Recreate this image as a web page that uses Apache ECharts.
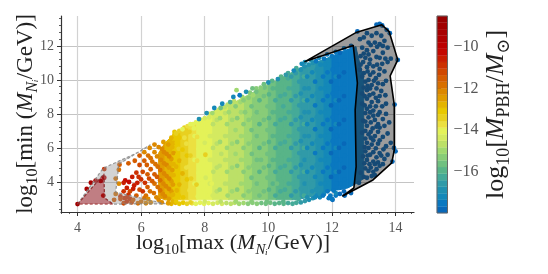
<!DOCTYPE html>
<html><head><meta charset="utf-8">
<style>html,body{margin:0;padding:0;background:#fff}#c{width:548px;height:274px}</style>
<script src="https://cdn.jsdelivr.net/npm/echarts@6/dist/echarts.min.js"></script>
</head><body><div id="c"></div>
<script>
// Tick labels
const xTicks=[4,6,8,10,12,14];
const yTicks=[4,6,8,10,12];
const cbarTicks=[-16,-14,-12,-10];
// Colour scale, bottom to top
const palette=['#0868b8','#0a78c0','#1488b8','#2090b0','#309aa8','#45aa98','#58b488','#70c080','#88cc78','#a0d870','#bce068','#d4ea60','#e4f258','#ece040','#e8d020','#e8c800','#e4b400','#e09c00','#dc8800','#d87000','#d45c00','#d04800','#cc3000','#c81c00','#c40800','#bc0000','#b00000','#a80000','#a00000','#980000'];
const cMin=-18,cMax=-8.5;
// Hull outlines [x,y]
const redHull=[[4,2.7],[4.83,4.47],[4.85,3.06],[5.12,2.7]];
const grayHull=[[4,2.7],[4.8,4.8],[5.97,5.8],[6.28,6.18],[5.3,5.05],[5.2,3.4],[6.75,2.72],[5.12,2.7],[4.85,3.06],[4.83,4.47]];
const blackHull=[[11.15,11.08],[12.78,12.81],[13.57,13.24],[13.8,12.84],[14.07,11.18],[13.83,10.24],[13.96,8.53],[13.96,5.88],[13.88,5.12],[13.29,4.12],[12.34,3.18],[12.69,3.65],[12.76,4.9],[12.73,8.24],[12.8,9.82],[12.67,12.02]];
// The packed interior of the cloud is too dense to read point by point, so it is
// painted as an envelope: x, lower and upper edge, colour value.
const bandX=[6.55,6.75,7,7.25,7.5,7.75,8,8.25,8.5,8.75,9,9.25,9.5,9.75,10,10.25,10.5,10.75,11,11.25,11.5,11.75,12,12.25,12.5,12.75,13];
const bandLow=[3.1,2.95,2.95,2.95,2.95,2.95,2.95,2.95,2.95,2.95,2.95,2.95,2.95,2.95,2.95,2.95,2.95,2.95,3,3.1,3.25,3.4,3.5,3.55,3.65,3.9,4.2];
const bandHigh=[5.7,6.3,6.75,7,7.25,7.5,7.75,8,8.25,8.5,8.75,9,9.25,9.5,9.75,9.95,10.2,10.45,10.7,10.9,11.05,11.2,11.4,11.6,11.8,11.95,10];
const bandC=[-12.5,-12.8,-13.15,-13.4,-13.75,-14,-14.2,-14.35,-14.45,-14.6,-14.75,-15,-15.3,-15.45,-15.6,-15.8,-16,-16.2,-16.45,-16.7,-16.95,-17.2,-17.4,-17.5,-17.6,-17.6,-17.7];
// Individually readable points [x,y,colour value]
const lowDots=[[4,2.7,-9],[4.29,3.59,-9.4],[4.42,3.96,-9.2],[4.57,4.08,-9.5],[4.73,4.06,-9.6],[4.84,4.25,-9.9],[4.84,4.76,-10.9],[4.81,3.2,-10.3],[5.32,5.02,-11.6],[5.3,4.72,-11.8],[5.2,4.2,-11.8],[5.3,3.9,-12.2],[5.2,3.3,-11.7],[5.55,3.1,-11],[5.65,3,-11],[5.7,2.8,-11.3],[5.45,2.75,-11.2],[5.35,3.15,-10.9],[5.5,4.1,-10.2],[5.62,4,-10.1],[5.72,4.3,-10.6],[5.55,3.65,-10.7],[5.78,3.8,-10.4],[5.65,3.45,-11.1],[5.85,4.55,-11],[5.6,5.1,-11.4],[5.8,5.25,-11.6],[5.95,5,-11.2],[5.95,5.55,-11.6],[6.1,5.75,-12],[6.1,5.25,-11.5],[6.05,4.6,-11.2],[6,4.15,-11],[5.95,3.55,-11.2],[5.85,3.2,-11.5],[6,2.85,-11.8],[6.15,3.2,-11.7],[6.2,3.7,-11.4],[6.25,4.2,-11.3],[6.3,4.75,-11.6],[6.3,5.4,-11.8],[6.27,6,-12.1],[6.42,5.75,-12],[6.45,5.05,-11.7],[6.42,4.45,-11.6],[6.42,3.9,-11.7],[6.4,3.35,-11.9],[6.3,2.8,-12.1],[6.55,2.95,-12.2],[6.6,3.5,-11.9],[6.6,4.1,-11.8],[6.6,4.7,-11.9],[6.62,5.3,-12],[6.65,5.95,-12.3],[6.7,6.35,-12.5],[6.8,5.65,-12.2],[6.8,5,-12.2],[6.8,4.35,-12.1],[6.78,3.75,-12.1],[6.75,3.15,-12.3],[6.85,2.75,-12.6],[6.95,3.45,-12.5],[6.95,4.05,-12.4],[6.98,4.7,-12.6],[6.95,5.35,-12.5],[6.98,6.05,-12.7],[6.95,6.6,-12.9],[5.15,2.95,-11.6],[6.1,3.05,-11.9],[5.75,2.95,-11.4],[5.9,2.75,-11.7],[6.15,2.75,-12.1],[5.45,3.95,-10.4],[5.45,3.45,-10.9],[6.05,3.45,-11],[6.12,3.95,-10.9],
[6.22,3,-12],[6.28,3.45,-11.7],[6.35,4.05,-11.4],[6.2,4.45,-11.5],[6.18,5,-11.6],[6.22,5.55,-11.9],[6.35,5.2,-11.9],[6.5,5.5,-12],[6.52,4.9,-11.8],[6.5,4.3,-11.6],[6.52,3.7,-11.9],[6.48,3.1,-12.1],[6.65,2.8,-12.3],[6.68,3.3,-12.1],[6.7,3.9,-12],[6.72,4.5,-12],[6.72,5.1,-12.1],[6.72,5.75,-12.3],[6.55,6.05,-12.2],[6.42,6.2,-12.2],[6.85,6.2,-12.6],[6.88,5.5,-12.3],[6.87,4.85,-12.4],[6.88,4.2,-12.3],[6.87,3.6,-12.2],[6.87,3,-12.5],[7,2.85,-12.7],[7,3.25,-12.8],[7,3.85,-12.6],[7.02,4.4,-12.7],[7.02,5.05,-12.8],[7.02,5.7,-12.6],[7.02,6.3,-12.8],[7.05,6.8,-13.1],[5.55,2.85,-11],[5.6,3.25,-10.9],[5.48,3.05,-11],[5.75,3.6,-10.7],[5.88,3.95,-10.6],[5.92,4.3,-10.9],[5.35,3,-11.3]];
const midDots=[[7.1,2.85,-13],[7.12,3.5,-12.7],[7.15,4.2,-13],[7.1,4.9,-12.8],[7.14,5.6,-13],[7.12,6.3,-13.1],[7.1,6.85,-13.3],[7.32,3.1,-13.1],[7.35,3.8,-13.4],[7.3,4.5,-12.9],[7.34,5.2,-13.3],[7.3,5.9,-13.1],[7.36,6.6,-13.6],[7.3,7.1,-14],[7.55,2.8,-13.3],[7.52,3.5,-13.7],[7.57,4.2,-13.4],[7.5,4.9,-13.8],[7.55,5.55,-13.3],[7.58,6.25,-13.7],[7.52,6.95,-13.5],[7.55,7.4,-14.2],[7.78,3.15,-13.9],[7.74,3.85,-13.5],[7.8,4.55,-14],[7.76,5.25,-13.6],[7.8,5.95,-14],[7.76,6.65,-13.7],[7.8,7.3,-14.2],[7.82,7.7,-16.9],[8,2.85,-14.3],[7.98,3.55,-14],[8.03,4.25,-14.3],[7.98,4.95,-14.1],[8.02,5.6,-13.3],[8,6.3,-14.3],[8.02,7,-14],[8,7.75,-14.5],[8.06,8.05,-17],[8.25,3.2,-14.5],[8.22,3.9,-14.2],[8.27,4.6,-14.6],[8.22,5.3,-14.3],[8.26,6,-14.6],[8.22,6.7,-14.4],[8.26,7.4,-14.7],[8.24,8.05,-15],[8.3,8.35,-17.1],[8.5,2.85,-14.7],[8.47,3.55,-14.9],[8.52,4.25,-14.5],[8.47,4.95,-14.8],[8.52,5.65,-14.6],[8.48,6.35,-14.9],[8.52,7.05,-14.5],[8.48,7.75,-14.9],[8.5,8.35,-15.6],[8.55,8.6,-17.2],[8.72,3.2,-14.9],[8.75,3.9,-14.7],[8.7,4.6,-15.1],[8.76,5.3,-14.8],[8.7,6,-15],[8.76,6.7,-14.7],[8.7,7.4,-15.1],[8.76,8.1,-15],[8.8,8.7,-16.4],[8.9,9,-17.3],[8.98,2.85,-15],[9.02,3.55,-15.3],[8.96,4.25,-14.8],[9.02,4.95,-15.2],[8.97,5.65,-14.9],[9.02,6.35,-15.3],[8.97,7.05,-14.9],[9.02,7.75,-15.2],[8.97,8.45,-15.4],[9.1,9.1,-17.4],[9.22,3.2,-15.2],[9.27,3.9,-15],[9.22,4.6,-15.4],[9.27,5.3,-15.1],[9.22,6,-15.4],[9.27,6.7,-15.1],[9.22,7.4,-15.4],[9.27,8.1,-15.2],[9.22,8.8,-15.4],[9.3,9.3,-17],[9.47,2.85,-15.4],[9.52,3.55,-15.2],[9.47,4.25,-15.6],[9.52,4.95,-15.2],[9.48,5.65,-15.6],[9.52,6.35,-15.2],[9.47,7.05,-15.6],[9.52,7.75,-15.3],[9.47,8.45,-15.6],[9.52,9.1,-15.1],[9.5,9.5,-15.5],[9.72,3.2,-15.7],[9.77,3.9,-15.4],[9.72,4.6,-15.8],[9.77,5.3,-15.5],[9.72,6,-15.8],[9.77,6.7,-15.4],[9.72,7.4,-15.8],[9.77,8.1,-15.4],[9.72,8.8,-15.8],[9.76,9.55,-15.3],[9.95,2.85,-15.6],[10.02,3.55,-15.9],[9.97,4.25,-15.5],[10.02,4.95,-16],[9.97,5.65,-15.6],[10.02,6.35,-16],[9.97,7.05,-15.6],[10.02,7.75,-16],[9.97,8.45,-15.6],[10.02,9.15,-15.9],[10,9.85,-16.9],[10.22,3.2,-16.1],[10.27,3.9,-15.7],[10.22,4.6,-16.2],[10.27,5.3,-15.8],[10.22,6,-16.2],[10.27,6.7,-15.8],[10.22,7.4,-16.2],[10.27,8.1,-15.8],[10.22,8.8,-16.2],[10.27,9.5,-15.9],[10.3,10.05,-17],[10.47,2.85,-16],[10.52,3.55,-16.3],[10.47,4.25,-16],[10.52,4.95,-16.4],[10.47,5.65,-16],[10.52,6.35,-16.4],[10.47,7.05,-16],[10.52,7.75,-16.4],[10.47,8.45,-16.1],[10.52,9.15,-16.4],[10.47,9.85,-16],[10.55,10.3,-16.7],[10.72,3.2,-16.5],[10.77,3.9,-16.2],[10.72,4.6,-16.7],[10.77,5.3,-16.3],[10.72,6,-16.7],[10.77,6.7,-16.3],[10.72,7.4,-16.7],[10.77,8.1,-16.3],[10.72,8.8,-16.7],[10.77,9.5,-16.3],[10.72,10.2,-16.6],[10.8,10.55,-17.1],[10.95,3,-16.4],[11.02,3.6,-16.7],[10.97,4.3,-16.5],[11.02,5,-16.9],[10.97,5.7,-16.5],[11.02,6.4,-16.9],[10.97,7.1,-16.5],[11.02,7.8,-16.9],[10.97,8.5,-16.5],[11.02,9.2,-16.9],[10.97,9.9,-16.5],[11.02,10.6,-16.9],[11.05,10.95,-17.3],[11.22,3.1,-16.9],[11.27,3.9,-16.7],[11.22,4.6,-17.2],[11.27,5.3,-16.7],[11.22,6,-17.2],[11.27,6.7,-16.8],[11.22,7.4,-17.2],[11.27,8.1,-16.8],[11.22,8.8,-17.2],[11.27,9.5,-16.8],[11.22,10.2,-17.2],[11.27,10.9,-16.9],[11.47,3.1,-17.3],[11.5,3.55,-17],[11.47,4.3,-17.3],[11.52,5,-16.9],[11.47,5.7,-17.4],[11.52,6.4,-16.9],[11.47,7.1,-17.4],[11.52,7.8,-17],[11.47,8.5,-17.4],[11.52,9.2,-17],[11.47,9.9,-17.4],[11.52,10.6,-17],[11.5,11.1,-17.4],[11.72,3.2,-17.5],[11.77,3.9,-17.2],[11.72,4.6,-17.6],[11.77,5.3,-17.2],[11.72,6,-17.6],[11.77,6.7,-17.2],[11.72,7.4,-17.6],[11.77,8.1,-17.2],[11.72,8.8,-17.6],[11.77,9.5,-17.2],[11.72,10.2,-17.6],[11.77,10.9,-17.3],[11.75,11.25,-17.6],[12,3,-17.6],[12.05,3.5,-17.4],[11.97,4.3,-17.7],[12.02,5,-17.4],[11.97,5.7,-17.7],[12.02,6.4,-17.4],[11.97,7.1,-17.7],[12.02,7.8,-17.4],[11.97,8.5,-17.7],[12.02,9.2,-17.4],[11.97,9.9,-17.7],[12.02,10.6,-17.4],[12,11.4,-17.6],[12.25,3.3,-17.7],[12.27,3.9,-17.5],[12.22,4.6,-17.8],[12.27,5.3,-17.5],[12.22,6,-17.8],[12.27,6.7,-17.5],[12.22,7.4,-17.8],[12.27,8.1,-17.5],[12.22,8.8,-17.8],[12.27,9.5,-17.5],[12.22,10.2,-17.8],[12.27,10.9,-17.5],[12.25,11.6,-17.7]];
const fillDots=[[7.18,3.2,-13.1],[7.2,3.85,-12.8],[7.18,4.55,-13.2],[7.2,5.25,-12.9],[7.18,5.95,-13.3],[7.2,6.6,-13],[7.42,3.45,-13.5],[7.44,4.15,-13.2],[7.42,4.85,-13.6],[7.44,5.55,-13.2],[7.42,6.25,-13.6],[7.44,6.9,-13.3],[7.66,3.2,-13.6],[7.68,3.9,-14],[7.66,4.6,-13.7],[7.68,5.3,-14],[7.66,6,-13.6],[7.68,6.7,-14],[7.66,7.15,-14.1],[7.9,3.45,-14.2],[7.92,4.15,-13.9],[7.9,4.85,-14.2],[7.92,5.55,-13.9],[7.9,6.25,-14.2],[7.92,6.95,-13.9],[7.9,7.4,-14.2],[8.14,3.2,-14.1],[8.16,3.9,-14.4],[8.14,4.6,-14.1],[8.16,5.3,-14.4],[8.14,6,-14.1],[8.16,6.7,-14.4],[8.14,7.4,-14.2],[8.14,7.8,-14.5],[8.38,3.45,-14.6],[8.4,4.15,-14.3],[8.38,4.85,-14.6],[8.4,5.55,-14.3],[8.38,6.25,-14.6],[8.4,6.95,-14.3],[8.38,7.65,-14.6],[8.4,8.1,-14.4],[8.62,3.2,-14.4],[8.64,3.9,-14.7],[8.62,4.6,-14.4],[8.64,5.3,-14.7],[8.62,6,-14.4],[8.64,6.7,-14.7],[8.62,7.4,-14.4],[8.64,8.05,-14.7],[8.86,3.45,-14.9],[8.88,4.15,-14.6],[8.86,4.85,-14.9],[8.88,5.55,-14.6],[8.86,6.25,-14.9],[8.88,6.95,-14.6],[8.86,7.65,-14.9],[8.88,8.35,-14.7],[9.12,3.2,-14.8],[9.14,3.9,-15.1],[9.12,4.6,-14.8],[9.14,5.3,-15.1],[9.12,6,-14.8],[9.14,6.7,-15.1],[9.12,7.4,-14.8],[9.14,8.1,-15.1],[9.12,8.7,-14.9],[9.38,3.45,-15.3],[9.4,4.15,-15],[9.38,4.85,-15.3],[9.4,5.55,-15],[9.38,6.25,-15.3],[9.4,6.95,-15],[9.38,7.65,-15.3],[9.4,8.35,-15],[9.38,8.95,-15.3],[9.62,3.2,-15.2],[9.64,3.9,-15.5],[9.62,4.6,-15.2],[9.64,5.3,-15.5],[9.62,6,-15.2],[9.64,6.7,-15.5],[9.62,7.4,-15.2],[9.64,8.1,-15.5],[9.62,8.8,-15.2],[9.62,9.3,-15.5],[9.86,3.45,-15.7],[9.88,4.15,-15.4],[9.86,4.85,-15.7],[9.88,5.55,-15.4],[9.86,6.25,-15.7],[9.88,6.95,-15.4],[9.86,7.65,-15.7],[9.88,8.35,-15.4],[9.86,9.05,-15.7],[9.88,9.55,-15.5],[10.12,3.2,-15.5],[10.14,3.9,-15.9],[10.12,4.6,-15.5],[10.14,5.3,-15.9],[10.12,6,-15.5],[10.14,6.7,-15.9],[10.12,7.4,-15.5],[10.14,8.1,-15.9],[10.12,8.8,-15.5],[10.14,9.5,-15.9],[10.38,3.45,-16.1],[10.4,4.15,-15.8],[10.38,4.85,-16.1],[10.4,5.55,-15.8],[10.38,6.25,-16.1],[10.4,6.95,-15.8],[10.38,7.65,-16.1],[10.4,8.35,-15.8],[10.38,9.05,-16.1],[10.4,9.75,-15.8],[10.62,3.2,-16],[10.64,3.9,-16.3],[10.62,4.6,-16],[10.64,5.3,-16.3],[10.62,6,-16],[10.64,6.7,-16.3],[10.62,7.4,-16],[10.64,8.1,-16.3],[10.62,8.8,-16],[10.64,9.5,-16.3],[10.62,10.1,-16.1],[10.86,3.45,-16.5],[10.88,4.15,-16.1],[10.86,4.85,-16.5],[10.88,5.55,-16.1],[10.86,6.25,-16.5],[10.88,6.95,-16.1],[10.86,7.65,-16.5],[10.88,8.35,-16.1],[10.86,9.05,-16.5],[10.88,9.75,-16.1],[10.86,10.4,-16.5],[11.12,3.2,-16.4],[11.14,3.9,-16.8],[11.12,4.6,-16.4],[11.14,5.3,-16.8],[11.12,6,-16.4],[11.14,6.7,-16.8],[11.12,7.4,-16.4],[11.14,8.1,-16.8],[11.12,8.8,-16.4],[11.14,9.5,-16.8],[11.12,10.2,-16.4],[11.14,10.8,-16.8],[11.38,3.45,-17],[11.4,4.15,-16.7],[11.38,4.85,-17.1],[11.4,5.55,-16.7],[11.38,6.25,-17.1],[11.4,6.95,-16.7],[11.38,7.65,-17.1],[11.4,8.35,-16.7],[11.38,9.05,-17.1],[11.4,9.75,-16.7],[11.38,10.45,-17.1],[11.4,11,-16.8],[11.62,3.3,-17],[11.64,3.9,-17.3],[11.62,4.6,-16.9],[11.64,5.3,-17.3],[11.62,6,-16.9],[11.64,6.7,-17.3],[11.62,7.4,-16.9],[11.64,8.1,-17.3],[11.62,8.8,-16.9],[11.64,9.5,-17.3],[11.62,10.2,-16.9],[11.64,10.9,-17.3],[11.86,3.45,-17.4],[11.88,4.15,-17.1],[11.86,4.85,-17.5],[11.88,5.55,-17.1],[11.86,6.25,-17.5],[11.88,6.95,-17.1],[11.86,7.65,-17.5],[11.88,8.35,-17.1],[11.86,9.05,-17.5],[11.88,9.75,-17.1],[11.86,10.45,-17.5],[11.88,11.15,-17.2],[12.12,3.35,-17.3],[12.14,3.9,-17.6],[12.12,4.6,-17.3],[12.14,5.3,-17.6],[12.12,6,-17.3],[12.14,6.7,-17.6],[12.12,7.4,-17.3],[12.14,8.1,-17.6],[12.12,8.8,-17.3],[12.14,9.5,-17.6],[12.12,10.2,-17.3],[12.14,10.9,-17.6],[12.38,3.45,-17.7],[12.4,4.15,-17.4],[12.38,4.85,-17.7],[12.4,5.55,-17.4],[12.38,6.25,-17.7],[12.4,6.95,-17.4],[12.38,7.65,-17.7],[12.4,8.35,-17.4],[12.38,9.05,-17.7],[12.4,9.75,-17.4],[12.38,10.45,-17.7],[12.4,11.15,-17.4]];
const bottomDots=[[6.95,2.72,-12.8],[7.08,2.78,-12.9],[7.2,2.72,-13.1],[7.32,2.78,-13.2],[7.44,2.72,-13.4],[7.6,2.75,-13.7],[7.72,2.72,-13.9],[7.85,2.78,-14],[7.98,2.72,-14.2],[8.12,2.76,-14.2],[8.26,2.72,-14.4],[8.4,2.78,-14.4],[8.54,2.72,-14.5],[8.68,2.76,-14.6],[8.82,2.72,-14.7],[8.94,2.78,-14.7],[9.08,2.72,-14.9],[9.22,2.76,-15],[9.36,2.72,-15.2],[9.5,2.78,-15.3],[9.64,2.72,-15.4],[9.78,2.76,-15.5],[9.92,2.72,-15.6],[10.06,2.78,-15.7],[10.2,2.72,-15.8],[10.34,2.76,-15.9],[10.48,2.72,-16],[10.62,2.76,-16.1],[10.76,2.72,-16.2],[10.88,2.78,-16.4],[11.02,2.8,-16.5],[11.15,2.88,-16.7],[11.28,2.95,-16.8],[11.4,3.05,-17],[11.52,3.2,-17.1],[11.62,3.1,-17.2],[11.75,3.3,-17.3],[11.95,3.2,-17.6],[12.02,2.95,-17.7],[11.9,3.05,-17.6],[12.12,3.2,-17.6]];
const topDots=[[7.05,6.95,-13],[7.2,7,-13.3],[7.36,7.2,-13.5],[7.46,7.28,-13.7],[7.62,7.4,-13.9],[7.72,7.5,-14],[7.9,7.65,-14.2],[8.15,8,-14.4],[8.35,8.15,-14.5],[8.45,8.25,-14.4],[8.62,8.4,-14.6],[8.72,8.55,-14.6],[8.92,8.75,-14.8],[9.18,9,-15],[9.42,9.25,-15.3],[9.62,9.5,-15.4],[9.86,9.75,-15.6],[10.12,9.95,-15.8],[10.4,10.2,-16],[10.62,10.4,-16.2],[10.88,10.7,-16.4],[9,9.4,-15],[11.15,11.05,-16.8],[11.35,11.15,-17],[11.6,11.3,-17.2],[11.85,11.5,-17.4],[12.12,11.65,-17.5],[12.38,11.85,-17.6],[12.6,12,-17.7]];
const highDots=[[12.8,12.85,-17.8],[13.4,13.25,-17.8],[13.5,13.3,-17.8],[13.58,13.2,-17.8],[13.72,12.95,-17.8],[13.82,12.75,-17.8],[14.07,11.18,-17.8],[13.97,8.55,-17.8],[13.95,6,-17.8],[14,5.8,-17.8],[13.9,5.2,-17.8],[13,12.5,-17.8],[13.1,12.75,-17.8],[13.25,12.6,-17.8],[13.4,12.75,-17.8],[13.55,12.6,-17.8],[13.65,12.3,-17.8],[13.15,12.2,-17.8],[13.35,12.2,-17.8],[13.5,12.1,-17.8],[13.75,11.9,-17.8],[12.95,11.9,-17.8],[13.1,11.75,-17.8],[13.3,11.7,-17.8],[13.6,11.6,-17.8],[12.9,11.4,-17.8],[13.05,11.3,-17.8],[13.2,11.2,-17.8],[13.4,11.35,-17.8],[13.85,11.25,-17.8],[13.75,11.05,-17.8],[12.9,10.9,-17.8],[13.1,10.75,-17.8],[13.3,10.8,-17.8],[13.5,10.65,-17.8],[13.65,10.5,-17.8],[13,10.4,-17.8],[13.2,10.3,-17.8],[13.38,10.1,-17.8],[13.05,9.9,-17.8],[13.25,9.7,-17.8],[13.45,9.8,-17.8],[13.7,9.95,-17.8],[13.1,9.4,-17.8],[13.3,9.2,-17.8],[13.55,9.35,-17.8],[13.1,8.9,-17.8],[13.25,8.7,-17.8],[13.45,8.75,-17.8],[13.7,8.6,-17.8],[13.1,8.3,-17.8],[13.3,8.2,-17.8],[13.5,8.1,-17.8],[13.15,7.8,-17.8],[13.35,7.65,-17.8],[13.6,7.7,-17.8],[13.8,7.5,-17.8],[13.1,7.3,-17.8],[13.28,7.15,-17.8],[13.5,7.2,-17.8],[13.15,6.8,-17.8],[13.35,6.7,-17.8],[13.6,6.65,-17.8],[13.1,6.3,-17.8],[13.25,6.2,-17.8],[13.45,6.25,-17.8],[13.7,6.1,-17.8],[13.85,6.3,-17.8],[13.05,5.8,-17.8],[13.3,5.75,-17.8],[13.5,5.7,-17.8],[13.55,5.55,-17.8],[13.75,5.6,-17.8],[13.1,5.3,-17.8],[13.3,5.2,-17.8],[13.35,5.05,-17.8],[13.45,5.15,-17.8],[13.6,5.05,-17.8],[13.05,4.8,-17.8],[13.15,4.65,-17.8],[13.3,4.6,-17.8],[13.4,4.75,-17.8],[13,4.3,-17.8],[13.1,4.25,-17.8],[12.95,9.2,-17.8],[12.95,8.6,-17.8],[12.98,7.6,-17.8],[12.95,6.9,-17.8],[12.98,5.5,-17.8],[12.95,10.2,-17.8],[12.85,3.95,-17.8],[12.6,3.35,-17.8],[12.4,3.2,-17.8],[13.15,10,-17.8],[13.4,9.5,-17.8],[13.2,8.1,-17.8],[13.45,7.4,-17.8],[13.22,6.6,-17.8],[13.2,5.6,-17.8],
[12.88,12.4,-17.8],[13.22,12.05,-17.8],[13.42,11.95,-17.8],[13.6,12,-17.8],[13,11.55,-17.8],[13.15,11.5,-17.8],[13.5,11.3,-17.8],[13.68,11.25,-17.8],[12.98,11.05,-17.8],[13.18,10.95,-17.8],[13.42,10.9,-17.8],[13.58,10.95,-17.8],[12.88,10.6,-17.8],[13.12,10.5,-17.8],[13.3,10.45,-17.8],[13.48,10.3,-17.8],[13.12,9.65,-17.8],[13.32,9.95,-17.8],[13.6,9.75,-17.8],[13,9.55,-17.8],[13.2,9.5,-17.8],[13.5,9.05,-17.8],[13.68,9.1,-17.8],[13.03,9.05,-17.8],[13.18,9.1,-17.8],[13.38,8.95,-17.8],[13.58,8.45,-17.8],[13.03,8.5,-17.8],[13.2,8.45,-17.8],[13.38,8.45,-17.8],[13.05,8.05,-17.8],[13.3,7.9,-17.8],[13.45,7.95,-17.8],[13.7,8,-17.8],[13.05,7.55,-17.8],[13.22,7.5,-17.8],[13.4,7.25,-17.8],[13.65,7.3,-17.8],[13.05,7,-17.8],[13.22,6.95,-17.8],[13.45,6.95,-17.8],[13.75,6.85,-17.8],[13.05,6.55,-17.8],[13.3,6.45,-17.8],[13.5,6.45,-17.8],[13.03,6.05,-17.8],[13.15,6,-17.8],[13.38,5.98,-17.8],[13.62,5.92,-17.8],[13.12,5.55,-17.8],[13.4,5.45,-17.8],[13.65,5.35,-17.8],[13.02,5.1,-17.8],[13.18,5.05,-17.8],[13.5,4.95,-17.8],[13.22,4.85,-17.8],[12.9,4.55,-17.8],[13.25,4.35,-17.8],[13.35,4.4,-17.8]];

const toColor=c=>palette[Math.max(0,Math.min(palette.length-1,Math.floor((c-cMin)/(cMax-cMin)*palette.length)))];
const minorX=[];for(let v=3.5;v<=14.5;v+=0.25)minorX.push(v);
const minorY=[];for(let v=2.4;v<=13.7;v+=0.4)minorY.push(+v.toFixed(1));
const F='"Liberation Serif","DejaVu Serif",serif';
const richFor=(a,b)=>({
 t:{fontFamily:F,fontSize:a,color:'#222',verticalAlign:'bottom',padding:[0,0,4,0]},
 i:{fontFamily:F,fontSize:a,fontStyle:'italic',color:'#222',verticalAlign:'bottom',padding:[0,0,4,0]},
 s:{fontFamily:F,fontSize:b,color:'#222',verticalAlign:'bottom'},
 si:{fontFamily:F,fontSize:b,fontStyle:'italic',color:'#222',verticalAlign:'bottom'}
});
const tickLab={fontFamily:F,fontSize:14,color:'#555'};
const poly=(pts,fill,stroke,w,dash,z)=>({type:'custom',coordinateSystem:'cartesian2d',xAxisIndex:0,yAxisIndex:0,z,silent:true,clip:false,
  data:[0],renderItem:(p,api)=>({type:'polygon',shape:{points:pts.map(q=>api.coord(q))},style:{fill,stroke,lineWidth:w,lineDash:dash,lineJoin:'round'}})});
const scatter=(d,z)=>({type:'scatter',data:d,symbolSize:4.8,z,silent:true,itemStyle:{color:p=>toColor(p.value[2]),opacity:1},xAxisIndex:0,yAxisIndex:0});
const bandData=bandX.slice(0,-1).map((x,i)=>[x,bandX[i+1],bandLow[i],bandHigh[i],bandLow[i+1],bandHigh[i+1],bandC[i]]);
const cbarData=palette.map((c,i)=>[cMin+i*(cMax-cMin)/palette.length,cMin+(i+1)*(cMax-cMin)/palette.length,c]);
const chart=echarts.init(document.getElementById('c'),null,{renderer:'canvas'});
chart.setOption({
 animation:false,backgroundColor:'#fff',
 grid:[{left:61,top:16,width:353,height:196,outerBoundsMode:'none'},{left:437,top:16,width:10.5,height:197,show:true,borderColor:'#666',borderWidth:1,backgroundColor:'transparent',z:5,outerBoundsMode:'none'}],
 xAxis:[
  {gridIndex:0,type:'value',min:3.48,max:14.58,position:'bottom',
   axisLine:{show:true,onZero:false,lineStyle:{color:'#333',width:1.2}},axisTick:{show:true,customValues:xTicks,length:4,lineStyle:{color:'#333'}},
   axisLabel:{customValues:xTicks,margin:9,...tickLab},splitLine:{show:true,lineStyle:{color:'#d2d2d2',width:1.2}},
   name:'{t|log}{s|10}{t|[max (}{i|M}{si|N}{si|ᵢ}{t|/GeV)]}',nameLocation:'middle',nameMoveOverlap:false,nameGap:20,nameTextStyle:{rich:richFor(22,15),padding:[0,9,0,0]}},
  {gridIndex:0,type:'value',min:3.48,max:14.58,position:'bottom',axisLine:{show:false},axisLabel:{show:false},splitLine:{show:false},
   axisTick:{show:true,customValues:minorX,length:2,lineStyle:{color:'#333',width:0.8}}},
  {gridIndex:1,type:'value',min:0,max:1,show:false}
 ],
 yAxis:[
  {gridIndex:0,type:'value',min:2.235,max:13.76,position:'left',
   axisLine:{show:true,onZero:false,lineStyle:{color:'#333',width:1.2}},axisTick:{show:true,customValues:yTicks,length:4,lineStyle:{color:'#333'}},
   axisLabel:{customValues:yTicks,margin:7,...tickLab},splitLine:{show:true,lineStyle:{color:'#c4c4c4',width:1}},
   name:'{t|log}{s|10}{t|[min (}{i|M}{si|N}{si|ᵢ}{t|/GeV)]}',nameLocation:'middle',nameMoveOverlap:false,nameGap:20,nameRotate:90,nameTextStyle:{rich:richFor(23,16)}},
  {gridIndex:0,type:'value',min:2.235,max:13.76,position:'left',axisLine:{show:false},axisLabel:{show:false},splitLine:{show:false},
   axisTick:{show:true,customValues:minorY,length:2,lineStyle:{color:'#333',width:0.8}}},
  {gridIndex:1,type:'value',min:cMin,max:cMax,position:'right',
   axisLine:{show:false},axisTick:{show:true,customValues:cbarTicks,length:4,lineStyle:{color:'#333'}},splitLine:{show:false},
   axisLabel:{customValues:cbarTicks,margin:6,...tickLab,fontSize:16,formatter:v=>String(v).replace('-','\u2212')},
   name:'{t|log}{s|10}{t|[}{i|M}{s|PBH}{t|/}{i|M}{s|\u2299}{t|]}',nameLocation:'middle',nameMoveOverlap:false,nameGap:36,nameRotate:90,nameTextStyle:{rich:richFor(26,18)}}
 ],
 series:[
  {type:'custom',xAxisIndex:0,yAxisIndex:0,z:1,silent:true,data:bandData,encode:{x:[0,1],y:[2,3]},
   renderItem:(p,api)=>{const a=api.value(0),b=api.value(1),l0=api.value(2),h0=api.value(3),l1=api.value(4),h1=api.value(5),col=toColor(api.value(6));
    return {type:'polygon',shape:{points:[[a,l0],[b,l1],[b,h1],[a,h0]].map(q=>api.coord(q))},style:{fill:col,stroke:col,lineWidth:1}};}},
  scatter(bottomDots,2),scatter(topDots,2),scatter(fillDots,2),scatter(lowDots,2),scatter(midDots,2),scatter(highDots,2),
  poly(grayHull,'rgba(150,150,150,0.42)','rgba(130,130,130,0.8)',1.2,[3,2],3),
  poly(redHull,'rgba(140,20,30,0.55)','rgba(150,30,30,0.7)',1.2,[3,2],4),
  poly(blackHull,'rgba(40,40,40,0.46)','#000',1.6,null,5),
  {type:'custom',xAxisIndex:2,yAxisIndex:2,z:2,silent:true,data:cbarData.map(d=>[0,d[0],d[1],d[2]]),
   renderItem:(p,api)=>{const a=api.coord([0,api.value(1)]),b=api.coord([1,api.value(2)]);const col=palette[p.dataIndex];
    return {type:'rect',shape:{x:a[0],y:b[1],width:b[0]-a[0],height:a[1]-b[1]},style:{fill:col,stroke:col,lineWidth:0.3}};}}
 ]
});
</script></body></html>
